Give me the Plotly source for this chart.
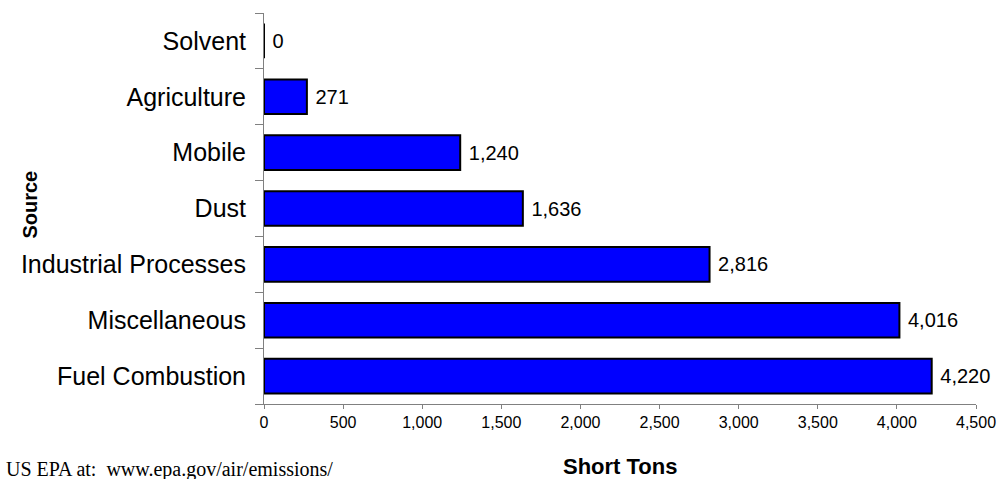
import plotly.graph_objects as go

sources = ["Fuel Combustion", "Miscellaneous", "Industrial Processes", "Dust",
           "Mobile", "Agriculture", "Solvent"]
short_tons = [4220, 4016, 2816, 1636, 1240, 271, 0]
x_ticks = [0, 500, 1000, 1500, 2000, 2500, 3000, 3500, 4000, 4500]

# leading space keeps the value labels a little clear of the bar ends
labels = [f" {v:,}" for v in short_tons]

# plot area in pixels
L, R, T, B = 264, 987, 13, 404
W, H = 1008, 479

fig = go.Figure(go.Bar(
    y=sources,
    x=short_tons,
    orientation="h",
    marker=dict(color="#0000FF", line=dict(color="black", width=2)),
    text=labels,
    textposition="outside",
    textfont=dict(family="Liberation Sans, Arial", size=20, color="black"),
    cliponaxis=False,
    width=0.62,
))

fig.update_layout(
    width=W, height=H,
    margin=dict(l=L, r=W - R, t=T, b=H - B),
    paper_bgcolor="white", plot_bgcolor="white",
    font=dict(family="Liberation Sans, Arial", color="black"),
    showlegend=False,
)

fig.update_xaxes(
    range=[0, 4500],
    tickvals=x_ticks,
    ticktext=[f"{v:,}" for v in x_ticks],
    tickfont=dict(size=16),
    showline=True, linecolor="#808080", linewidth=1,
    ticks="outside", ticklen=4, tickcolor="#808080",
    showgrid=False, zeroline=False,
)

fig.update_yaxes(
    tickfont=dict(size=25),
    showline=True, linecolor="#808080", linewidth=1,
    ticks="outside", ticklen=8, tickcolor="#808080",
    tickson="boundaries",
    ticklabelstandoff=12,
    showgrid=False, zeroline=False,
)

ph = B - T
pw = R - L

# axis titles
fig.add_annotation(
    text="<b>Short Tons</b>", xref="paper", yref="paper",
    x=0.5, y=-(466 - B) / ph,
    showarrow=False, font=dict(size=22), yanchor="middle", xanchor="center",
)
fig.add_annotation(
    text="<b>Source</b>", xref="paper", yref="paper",
    x=-(L - 26) / pw, y=1 - (205 - T) / ph, textangle=-90,
    showarrow=False, font=dict(size=20), yanchor="middle", xanchor="center",
)

# source note along the bottom edge
fig.add_annotation(
    text="US EPA at:  www.epa.gov/air/emissions/", xref="paper", yref="paper",
    x=-L / pw, y=-(469 - B) / ph,
    showarrow=False, font=dict(family="Liberation Serif, Times New Roman", size=20),
    xanchor="left", yanchor="middle",
)

fig.write_html("out.html")
